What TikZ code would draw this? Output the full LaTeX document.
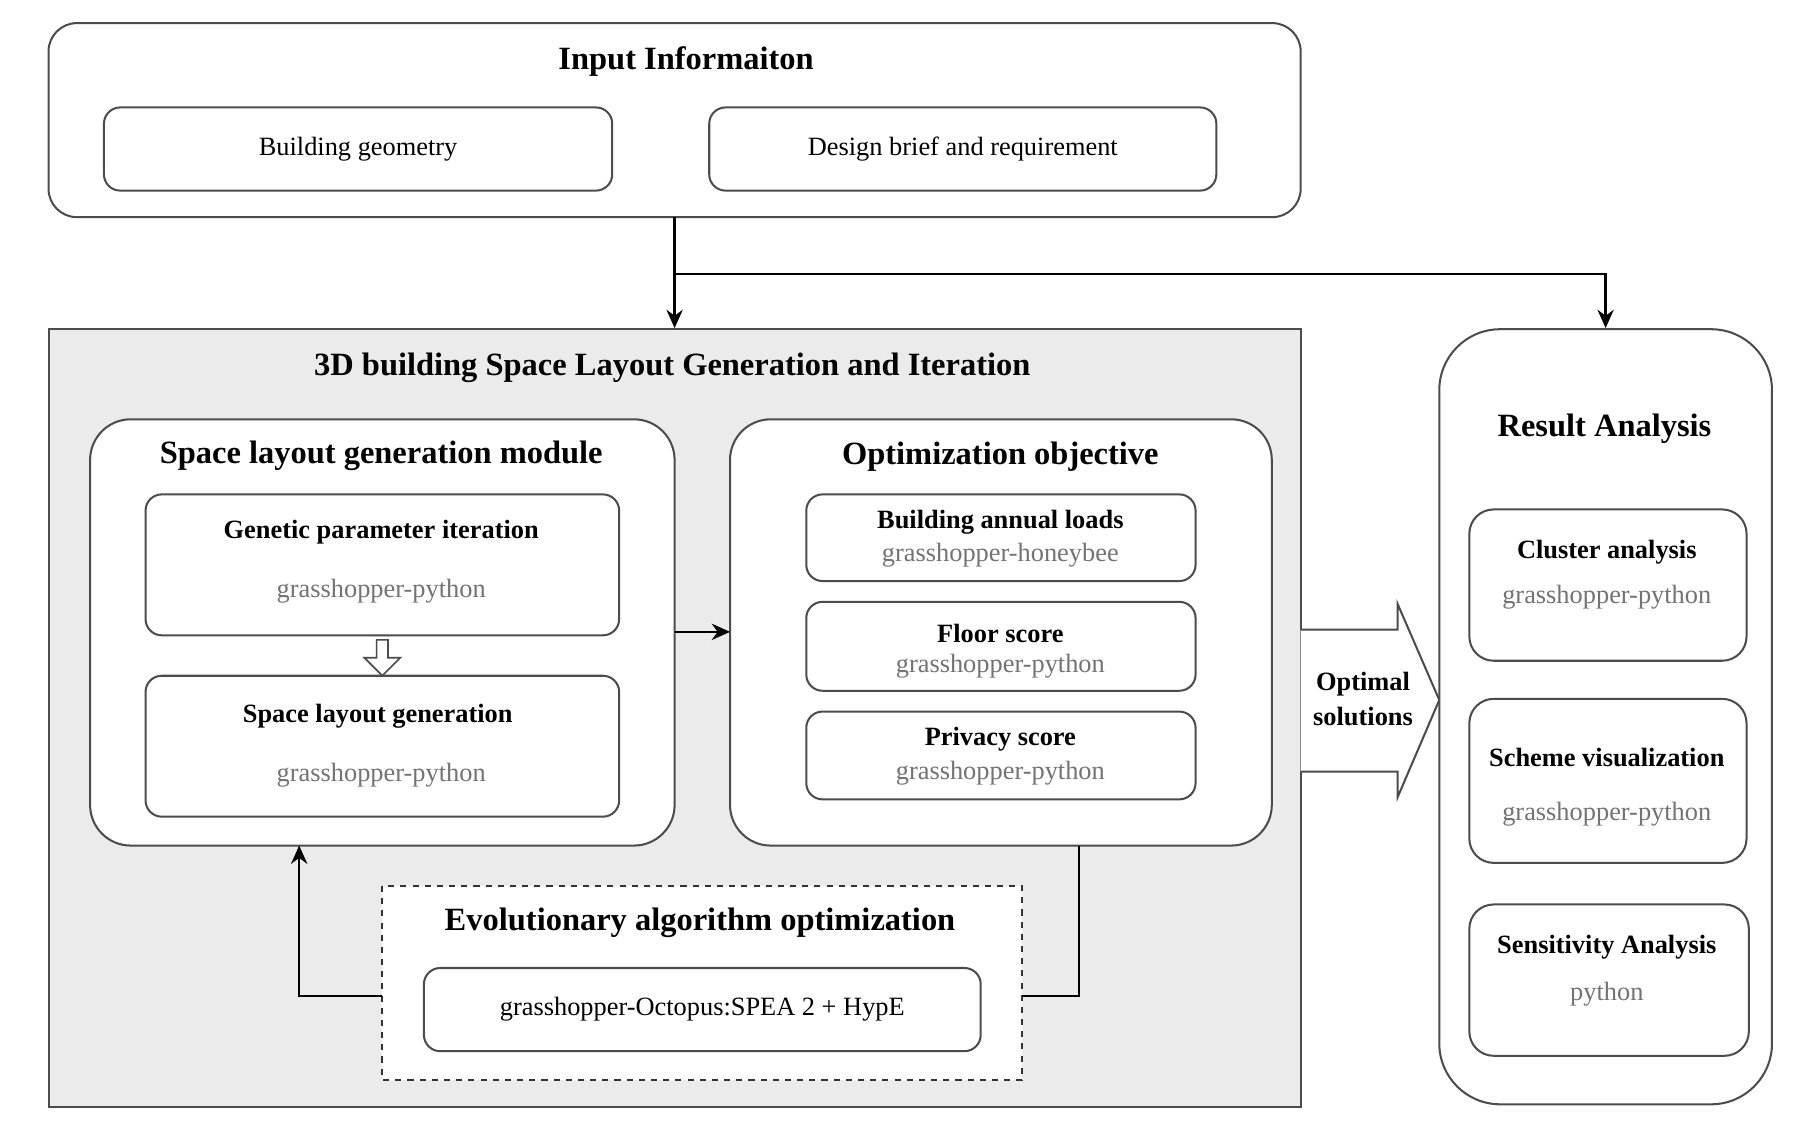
\documentclass[tikz,border=0pt]{standalone}
\usepackage{fontspec}
\setmainfont{Liberation Serif}
\usetikzlibrary{arrows.meta,shapes.arrows}
\begin{document}
\begin{tikzpicture}[x=0.02cm,y=-0.02cm,
 box/.style={draw=black!70,line width=1pt,rounded corners=8pt},
 big/.style={draw=black!70,line width=1pt,rounded corners=20pt,fill=white},
 ttl/.style={font=\bfseries\fontsize{16}{18}\selectfont},
 sub/.style={font=\bfseries\fontsize{13}{15}\selectfont},
 txt/.style={font=\fontsize{13}{15}\selectfont},
 gry/.style={font=\fontsize{13}{15}\selectfont,text=black!55},
 arr/.style={-{Stealth[length=9pt,width=8pt]},line width=1.2pt}]
\useasboundingbox (0,0) rectangle (1560,984);
% input
\draw[box,rounded corners=14pt] (42,20) rectangle (1126,188);
\node[ttl] (tin) at (594,53) {Input Informaiton};
\draw[box] (90,93) rectangle node[txt] (bg) {Building geometry} (530,165);
\draw[box] (614,93) rectangle node[txt] (db) {Design brief and requirement} (1053,165);
\coordinate (ib) at (584,188);
\coordinate (jn) at (584,237);
\coordinate (gt) at (584,284);
\coordinate (rt) at (1390,284);
% gray
\draw[draw=black!70,line width=1pt,fill=black!8] (42,285) rectangle (1126,958);
\draw[arr] (ib) -- (gt);
\draw[arr] (jn) -| (rt);
\node[ttl] at (582,318) {3D building Space Layout Generation and Iteration};
% module
\draw[big] (78,363) rectangle (584,732);
\node[ttl] at (330,395) {Space layout generation module};
\draw[box,fill=white] (126,428) rectangle (536,550);
\node[sub] at (330,461) {Genetic parameter iteration};
\node[gry] at (330,512) {grasshopper-python};
\draw[box,fill=white] (126,585) rectangle (536,707);
\node[sub] at (327,620) {Space layout generation};
\node[gry] at (330,671) {grasshopper-python};
\node[single arrow,draw=black!70,line width=0.8pt,fill=white,rotate=-90,minimum height=0.62cm,minimum width=0.62cm,single arrow head extend=3pt,inner sep=1pt] (ha) at (331,567) {};
% optimization
\draw[big] (632,363) rectangle (1101,732);
\coordinate (ml) at (584,547);
\coordinate (or) at (632,547);
\draw[arr] (ml) -- (or);
\node[ttl] at (866,395) {Optimization objective};
\draw[box,fill=white] (698,428) rectangle (1035,503);
\node[sub] at (866,452) {Building annual loads};
\node[gry] at (866,481) {grasshopper-honeybee};
\draw[box,fill=white] (698,521) rectangle (1035,598);
\node[sub] at (866,548) {Floor score};
\node[gry] at (866,577) {grasshopper-python};
\draw[box,fill=white] (698,616) rectangle (1035,692);
\node[sub] at (866,640) {Privacy score};
\node[gry] at (866,669) {grasshopper-python};
% evolutionary
\draw[black!80,line width=1pt,dashed,fill=white] (331,767) rectangle (885,935);
\node[ttl] at (606,799) {Evolutionary algorithm optimization};
\draw[box,fill=white] (367,838) rectangle node[txt] {grasshopper-Octopus:SPEA 2 + HypE} (849,910);
\coordinate (ob) at (934,732);
\coordinate (er) at (885,862);
\coordinate (el) at (331,862);
\coordinate (mb) at (259,732);
\draw[line width=1.2pt] (ob) |- (er);
\draw[arr] (el) -| (mb);
% big arrow
\draw[draw=black!70,line width=1pt,fill=white] (1126,545) -- (1210,545) -- (1210,523) -- (1246,606) -- (1210,690) -- (1210,668) -- (1126,668);
\node[sub,align=center] at (1180,605) {Optimal\\[2pt]solutions};
% result
\draw[big,rounded corners=30pt] (1246,285) rectangle (1534,956);
\node[ttl] at (1389,371) {Result Analysis};
\draw[box,rounded corners=12pt] (1272,441) rectangle (1512,572);
\node[sub] at (1391,478) {Cluster analysis};
\node[gry] at (1391,517) {grasshopper-python};
\draw[box,rounded corners=12pt] (1272,605) rectangle (1512,747);
\node[sub] at (1391,656) {Scheme visualization};
\node[gry] at (1391,705) {grasshopper-python};
\draw[box,rounded corners=12pt] (1272,783) rectangle (1514,914);
\node[sub] at (1391,820) {Sensitivity Analysis};
\node[gry] at (1391,861) {python};
\end{tikzpicture}
\end{document}
